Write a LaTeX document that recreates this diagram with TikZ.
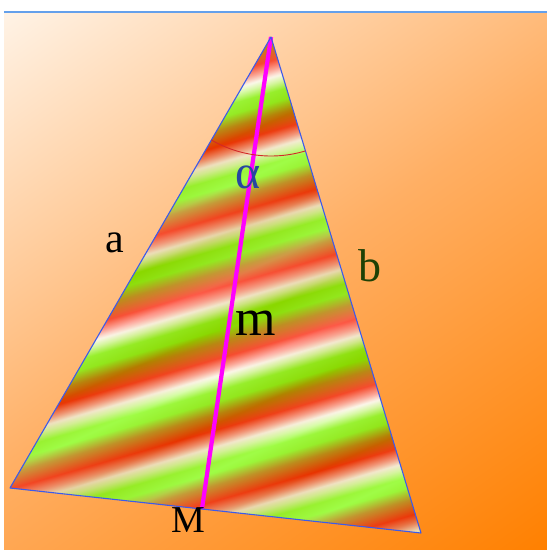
\documentclass[tikz,border=0pt]{standalone}
\usepackage{fontspec}
\setmainfont{Liberation Serif}
\usetikzlibrary{calc}
\definecolor{sg}{RGB}{120,255,0}
\definecolor{slg}{RGB}{205,255,150}
\definecolor{sw}{RGB}{252,248,235}
\definecolor{sp}{RGB}{255,140,130}
\definecolor{sr}{RGB}{255,20,0}
\definecolor{sb}{RGB}{180,125,0}
\definecolor{triblue}{RGB}{60,90,235}
\definecolor{topblue}{RGB}{100,160,235}
\definecolor{arcred}{RGB}{210,40,40}
\definecolor{bgreen}{RGB}{30,65,5}
\definecolor{alphablue}{RGB}{40,70,160}
\definecolor{medline}{RGB}{255,0,255}
\definecolor{bgdark}{RGB}{255,128,0}
\definecolor{bgmid}{RGB}{255,175,100}
\definecolor{bglight}{RGB}{255,243,230}
\pgfdeclareverticalshading{bgshade}{100bp}{color(0bp)=(bgdark); color(15.2bp)=(bgdark); color(50bp)=(bgmid); color(84.8bp)=(bglight); color(100bp)=(bglight)}
\def\stripespec{color(0bp)=(sg)}
\foreach \i in {0,...,24}{%
  \pgfmathsetmacro\oa{4*\i+0.5}%
  \pgfmathsetmacro\ob{4*\i+0.85}%
  \pgfmathsetmacro\oc{4*\i+1.25}%
  \pgfmathsetmacro\od{4*\i+1.8}%
  \pgfmathsetmacro\oe{4*\i+2.7}%
  \pgfmathsetmacro\of{4*\i+3.4}%
  \pgfmathsetmacro\og{4*\i+4.0}%
  \xdef\stripespec{\stripespec; color(\oa bp)=(slg); color(\ob bp)=(sw); color(\oc bp)=(sp); color(\od bp)=(sr); color(\oe bp)=(sb); color(\of bp)=(sg); color(\og bp)=(sg)}%
}
\edef\tmpdecl{\noexpand\pgfdeclareverticalshading{stripes}{100bp}{\stripespec}}\tmpdecl
\def\overspec{color(0bp)=(sw)}
\foreach \i in {0,...,19}{%
  \pgfmathsetmacro\oa{5*\i+2.5}%
  \pgfmathsetmacro\ob{5*\i+5.0}%
  \xdef\overspec{\overspec; color(\oa bp)=(sb); color(\ob bp)=(sw)}%
}
\edef\tmpdecl{\noexpand\pgfdeclareverticalshading{overstripes}{100bp}{\overspec}}\tmpdecl
\tikzset{
  lbl/.style={inner sep=0pt},
}
\begin{document}
\begin{tikzpicture}[x=1pt,y=-1pt]
\useasboundingbox (0,0) rectangle (547,550);
\fill[white] (0,0) rectangle (547,550);
\shade[shading=bgshade, shading angle=35] (4,12) rectangle (547,550);
\coordinate (T1) at (4,12);
\coordinate (T2) at (547,12);
\draw[topblue, line width=1.5] (T1) -- (T2);
\coordinate (A) at (271,37);
\coordinate (B) at (10,488);
\coordinate (C) at (421,533);
\coordinate (M) at ($(B)!0.467!(C)$);
\begin{scope}
  \clip (A)--(B)--(C)--cycle;
  \shade[shading=stripes, shading angle=16] (-210,-140) rectangle (640,710);
  \shade[shading=overstripes, shading angle=24, opacity=0.3] (-210,-140) rectangle (640,710);
\end{scope}
\draw[medline, line width=4.2] (A)--(M);
\draw[triblue, line width=1.1, line join=round] (A)--(B)--(C)--cycle;
\draw[arcred, line width=0.9] plot[domain=73.2:120.1, samples=40] ({271+119*cos(\x)},{37+119*sin(\x)});
\node[lbl, font=\fontsize{42}{42}\selectfont] (la) at (115,243) {a};
\node[lbl, text=bgreen, font=\fontsize{46}{46}\selectfont] (lb) at (370,266) {b};
\node[lbl, font=\fontsize{52}{52}\selectfont] (lm) at (256,323) {m};
\node[lbl, font=\fontsize{38}{38}\selectfont] (lM) at (188,520) {M};
\node[lbl, text=alphablue, font=\fontsize{48}{48}\selectfont] (lal) at (248,177) {α};
\end{tikzpicture}
\end{document}
